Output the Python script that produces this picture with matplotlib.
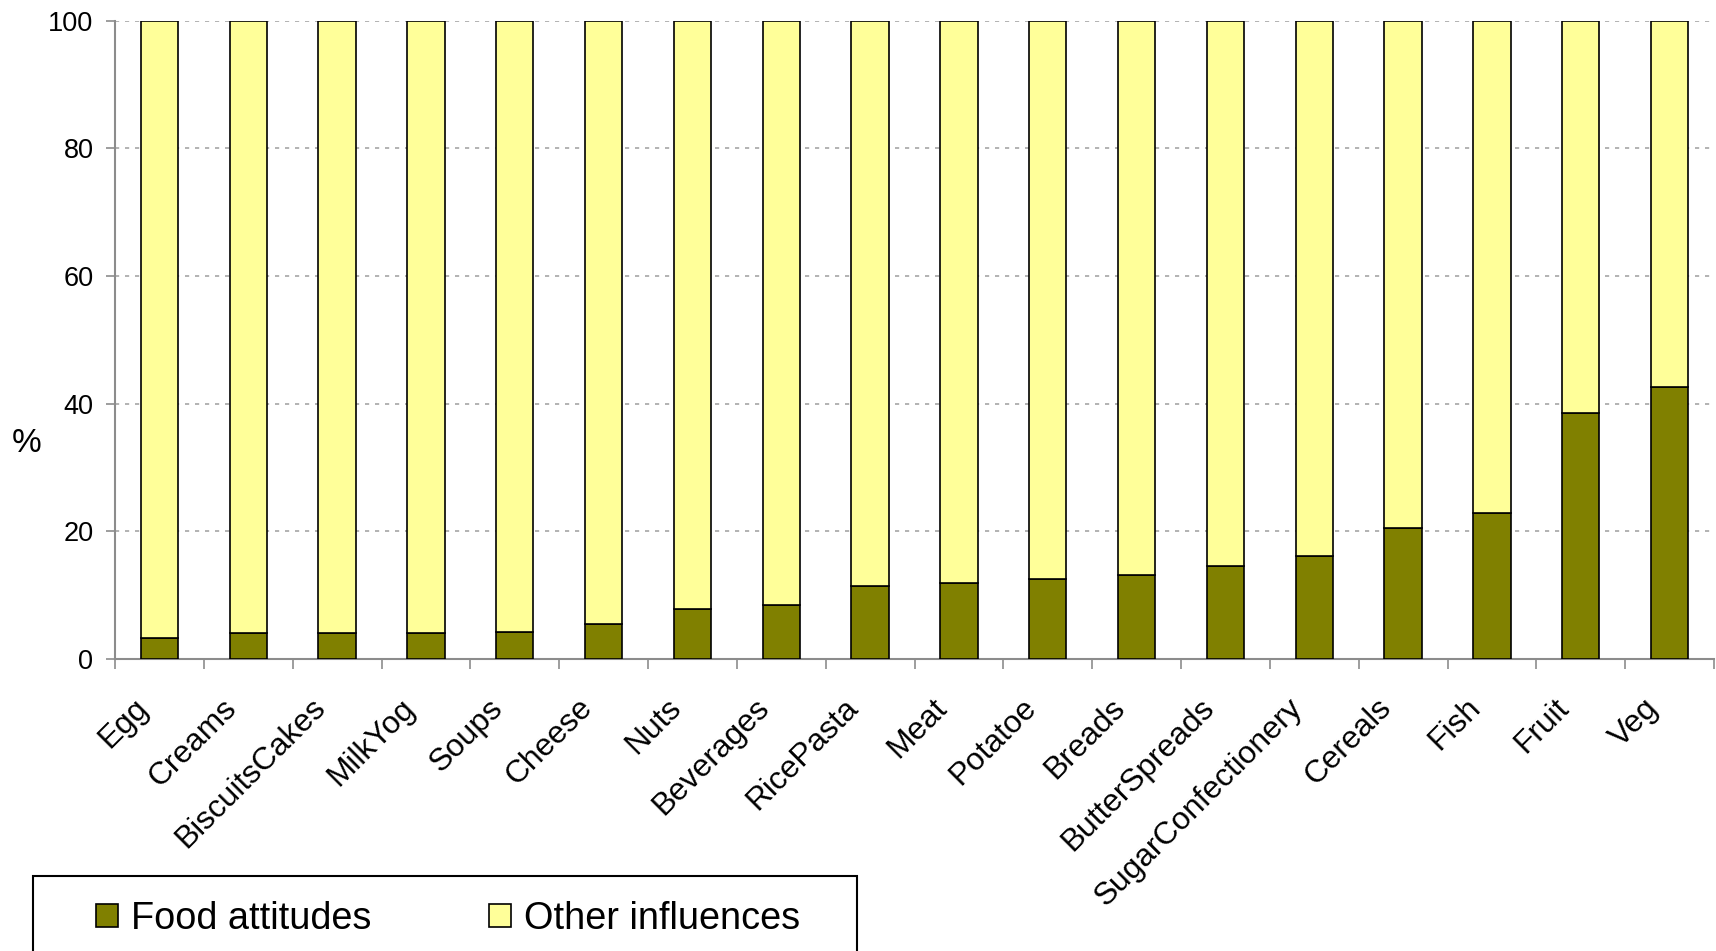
"""Food attitudes vs other influences: stacked percentage bars per food group."""
import matplotlib
matplotlib.use("Agg")
import matplotlib.pyplot as plt
import matplotlib.transforms as mtransforms
from matplotlib.patches import Rectangle
import numpy as np

plt.rcParams["font.family"] = ["Liberation Sans", "DejaVu Sans"]

# data
categories = [
    "Egg", "Creams", "BiscuitsCakes", "MilkYog", "Soups", "Cheese", "Nuts",
    "Beverages", "RicePasta", "Meat", "Potatoe", "Breads", "ButterSpreads",
    "SugarConfectionery", "Cereals", "Fish", "Fruit", "Veg",
]
food_attitudes = [3.3, 4.0, 4.0, 4.0, 4.3, 5.5, 7.8, 8.4, 11.5, 11.9,
                  12.5, 13.1, 14.6, 16.2, 20.6, 22.8, 38.5, 42.6]
other_influences = [100 - v for v in food_attitudes]
y_ticks = [0, 20, 40, 60, 80, 100]

W, H = 1716, 951
fig = plt.figure(figsize=(W / 100, H / 100), dpi=100)
ax = fig.add_axes([115 / W, 1 - 659 / H, (1714 - 115) / W, (659 - 20.7) / H])

x = np.arange(len(categories))
bw = 0.42
ax.bar(x, food_attitudes, bw, color="#808000", edgecolor="black",
       linewidth=1.2, label="Food attitudes", zorder=3)
ax.bar(x, other_influences, bw, bottom=food_attitudes, color="#FFFF99",
       edgecolor="black", linewidth=1.2, label="Other influences", zorder=3)

ax.set_xlim(-0.5, len(categories) - 0.5)
ax.set_ylim(0, 100)
ax.set_yticks(y_ticks)
ax.yaxis.grid(True, color="#A6A6A6", linestyle=(0, (2.5, 3.5)), linewidth=1.2)
ax.set_axisbelow(True)

for s in ("top", "right"):
    ax.spines[s].set_visible(False)
for s in ("left", "bottom"):
    ax.spines[s].set_color("#8C8C8C")
    ax.spines[s].set_linewidth(1.5)

ax.tick_params(axis="y", colors="#8C8C8C", length=6.5, width=1.2,
               labelcolor="black", labelsize=19.5, pad=9)
ax.set_xticks(x)
ax.set_xticks(np.arange(-0.5, len(categories)), minor=True)
ax.tick_params(axis="x", which="major", length=0, pad=32)
ax.tick_params(axis="x", which="minor", colors="#8C8C8C", length=7, width=1.2)
ax.set_xticklabels(categories, rotation=45, ha="right", va="center",
                   rotation_mode="anchor", fontsize=22.8)
# nudge the slanted labels left, like the original
shift = mtransforms.ScaledTranslation(-16 / 100, 0, fig.dpi_scale_trans)
for lbl in ax.get_xticklabels():
    lbl.set_transform(lbl.get_transform() + shift)

ax.set_ylabel("%", rotation=0, fontsize=24, ha="center", va="center")
ax.yaxis.set_label_coords(-0.055, 0.338)

# legend box runs off the bottom edge, as in the source
fig.patches.append(Rectangle((33 / W, -0.05), (857 - 33) / W, 0.05 + (1 - 876 / H),
                             transform=fig.transFigure, facecolor="white",
                             edgecolor="black", linewidth=1.5, clip_on=False))
fig.legend(loc="center left", bbox_to_anchor=(96 / W, 1 - 919 / H), ncol=2,
           frameon=False, fontsize=27.3, borderpad=0, borderaxespad=0,
           handlelength=0.58, handleheight=0.58, handletextpad=0.34,
           columnspacing=3.1)

fig.savefig("out.png", dpi=100)
